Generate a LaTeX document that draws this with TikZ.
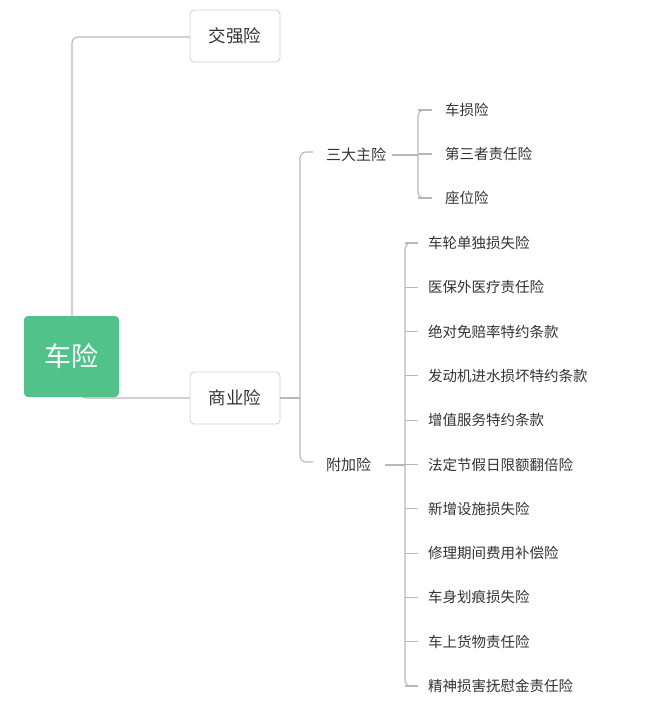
\documentclass[tikz,border=0pt]{standalone}
\usepackage{fontspec}
\newfontfamily\cjk{Noto Sans CJK SC}
\begin{document}
\begin{tikzpicture}[x=1pt,y=-1pt,
  ln/.style={draw=black!28,line width=1.1pt,rounded corners=6pt},
  box/.style={draw=black!18,line width=0.9pt,rounded corners=4pt,fill=white,minimum width=90pt,minimum height=52pt,font=\cjk\fontsize{17.5}{17.5}\selectfont,text=black!80},
  it/.style={anchor=west,font=\cjk\fontsize{14.5}{14.5}\selectfont,text=black!80,inner sep=0pt}]
\useasboundingbox (0,0) rectangle (668,721);
\coordinate (rt) at (72,317);
\coordinate (rb) at (80,396);
\draw[ln] (rt) -- (72,37) -- (190,37);
\draw[ln] (rb) -- (80,398) -- (190,398);
\node[fill={rgb,255:red,80;green,194;blue,138},rounded corners=4pt,minimum width=95pt,minimum height=81pt,text=white,font=\cjk\fontsize{27}{27}\selectfont] (root) at (71.5,356.5) {车险};
\node[box] (jq) at (235,36) {交强险};
\node[box] (sy) at (235,398) {商业险};
\node[it,font=\cjk\fontsize{15}{15}\selectfont] (sd) at (326,155) {三大主险};
\node[it,font=\cjk\fontsize{15}{15}\selectfont] (fj) at (326,465) {附加险};
\draw[ln] (sy.east) -- (300,398);
\draw[ln] (313,152) -- (300,152) -- (300,462) -- (313,462);
\draw[ln] ([xshift=6pt]sd.east) -- (418,155);
\draw[ln] ([xshift=14pt]fj.east) -- (405,465);
\foreach \t [count=\i] in {车损险,第三者责任险,座位险}{
  \node[it] (a\i) at (445,{110+44*(\i-1)}) {\t};
  \draw[ln] (432,{110+44*(\i-1)}) -- (418,{110+44*(\i-1)});
}
\draw[ln] (432,110) -- (418,110) -- (418,198) -- (432,198);
\foreach \t [count=\i] in {车轮单独损失险,医保外医疗责任险,绝对免赔率特约条款,发动机进水损坏特约条款,增值服务特约条款,法定节假日限额翻倍险,新增设施损失险,修理期间费用补偿险,车身划痕损失险,车上货物责任险,精神损害抚慰金责任险}{
  \node[it] (b\i) at (428,{243+44.3*(\i-1)}) {\t};
  \draw[ln] (405,{243+44.3*(\i-1)}) -- (418,{243+44.3*(\i-1)});
}
\draw[ln] (418,243) -- (405,243) -- (405,686) -- (418,686);
\end{tikzpicture}
\end{document}
